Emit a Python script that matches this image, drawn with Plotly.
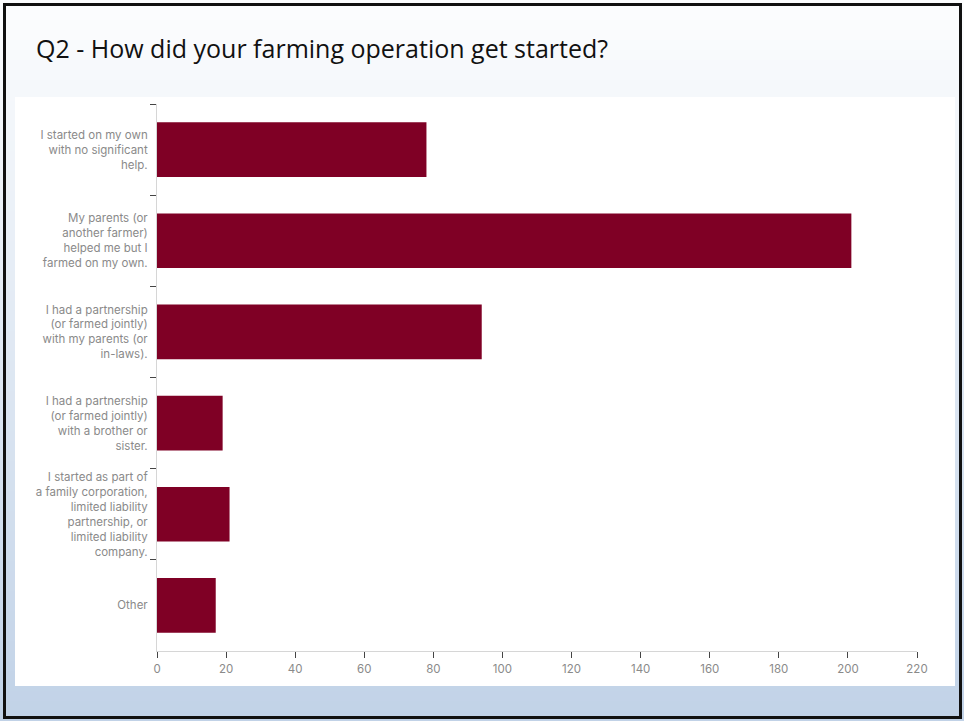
import plotly.graph_objects as go

# Survey responses: how each farming operation got started
categories = [
    "I started on my own<br>with no significant<br>help.",
    "My parents (or<br>another farmer)<br>helped me but I<br>farmed on my own.",
    "I had a partnership<br>(or farmed jointly)<br>with my parents (or<br>in-laws).",
    "I had a partnership<br>(or farmed jointly)<br>with a brother or<br>sister.",
    "I started as part of<br>a family corporation,<br>limited liability<br>partnership, or<br>limited liability<br>company.",
    "Other",
]
counts = [78, 201, 94, 19, 21, 17]
x_ticks = list(range(0, 221, 20))

W, H = 964, 721
PL, PR, PT, PB = 157, 917, 104, 651  # plot area in pixels


def px_x(p):
    return (p - PL) / (PR - PL)


def px_y(p):
    return (PB - p) / (PB - PT)


shapes = []
# slide background: vertical gradient from near-white to pale blue
n_bands = 72
top_rgb = (252, 253, 254)
bot_rgb = (193, 210, 231)
for i in range(n_bands):
    t = i / (n_bands - 1)
    r = round(top_rgb[0] + (bot_rgb[0] - top_rgb[0]) * t)
    g = round(top_rgb[1] + (bot_rgb[1] - top_rgb[1]) * t)
    b = round(top_rgb[2] + (bot_rgb[2] - top_rgb[2]) * t)
    y0 = H * i / n_bands
    y1 = H * (i + 1) / n_bands + 1
    shapes.append(dict(type="rect", xref="paper", yref="paper", layer="below",
                       x0=px_x(0), x1=px_x(W), y0=px_y(y1), y1=px_y(y0),
                       line=dict(width=0), fillcolor=f"rgb({r},{g},{b})"))
# white chart panel
shapes.append(dict(type="rect", xref="paper", yref="paper", layer="below",
                   x0=px_x(15), x1=px_x(955), y0=px_y(686), y1=px_y(97),
                   line=dict(width=0), fillcolor="white"))
# slide frame
shapes.append(dict(type="rect", xref="paper", yref="paper", layer="above",
                   x0=px_x(4.5), x1=px_x(960.5), y0=px_y(717.5), y1=px_y(4.5),
                   line=dict(width=3, color="#111111"), fillcolor="rgba(0,0,0,0)"))

fig = go.Figure(go.Bar(
    x=counts,
    y=categories,
    orientation="h",
    marker=dict(color="#7f0025", line=dict(width=0)),
    width=0.6,
    hoverinfo="x+y",
))

tick_font = dict(family="Inter", size=11.5, color="#8a8a8a")

fig.update_layout(
    width=W,
    height=H,
    margin=dict(l=PL, r=W - PR, t=PT, b=H - PB, pad=0),
    paper_bgcolor="white",
    plot_bgcolor="rgba(0,0,0,0)",
    showlegend=False,
    shapes=shapes,
    annotations=[dict(
        text="Q2 - How did your farming operation get started?",
        xref="paper", yref="paper", x=px_x(34), y=px_y(48),
        xanchor="left", yanchor="middle", showarrow=False,
        font=dict(family="Open Sans", size=25, color="#111111"),
    )],
    xaxis=dict(
        range=[0, 220],
        tickvals=x_ticks,
        ticks="outside", ticklen=6, tickwidth=1, tickcolor="#444444",
        showline=True, linecolor="#d6d6d6", linewidth=1,
        showgrid=False, zeroline=False,
        tickfont=tick_font,
        ticklabelstandoff=1,
        fixedrange=True,
    ),
    yaxis=dict(
        autorange="reversed",
        ticks="outside", ticklen=6, tickwidth=1, tickcolor="#444444",
        tickson="boundaries",
        showline=True, linecolor="#d6d6d6", linewidth=1,
        showgrid=False, zeroline=False,
        tickfont=tick_font,
        ticklabelstandoff=6,
        fixedrange=True,
    ),
)

fig.write_html("out.html")
